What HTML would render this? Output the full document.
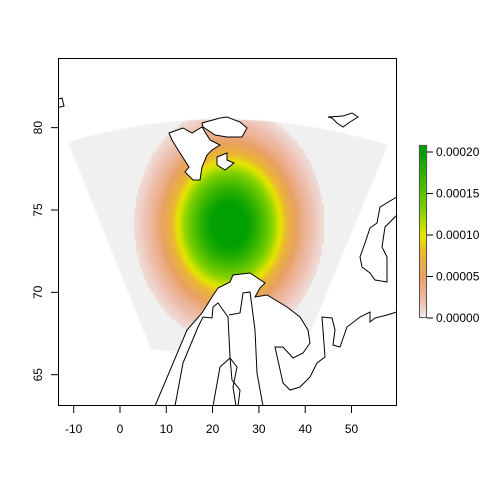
<!DOCTYPE html>
<html><head><meta charset="utf-8"><style>
html,body{margin:0;padding:0;background:#fff;}
#wrap{position:relative;width:480px;height:480px;font-family:"Liberation Sans",sans-serif;}
svg{position:absolute;left:0;top:0}
</style></head><body>
<div id="wrap">
<canvas id="heat" width="480" height="480" style="position:absolute;left:0;top:0"></canvas>
<svg id="s" width="480" height="480"></svg>
</div>
<script>
// density model parameters (lon, lat, spread lon, spread lat, peak)
const centerLonLat = [23.6, 74.1];
const spreadLonLat = [9.4, 3.25];
const peakDensity = [0.00021];
const xTicks = [-10,0,10,20,30,40,50];
const yTicks = [65,70,75,80];
const legendTicks = [0,0.00005,0.0001,0.00015,0.0002];
const legendLabels = ["0.00000","0.00005","0.00010","0.00015","0.00020"];

const px = lon => 120 + lon*4.63;
const py = lat => 210 - (lat-75)*16.47;
const lonOf = x => (x-120)/4.63;
const latOf = y => 75 + (210-y)/16.47;
const legY = v => 318 - v/0.00005*41.5;

const stops = [[0,[240,240,240]],[0.1,[238,190,175]],[0.25,[232,160,100]],[0.4,[234,182,50]],[0.5,[230,230,0]],[0.65,[130,210,0]],[1,[0,160,0]]];
function col(t){t=Math.max(0,Math.min(1,t));for(let i=1;i<stops.length;i++){if(t<=stops[i][0]){const a=stops[i-1],b=stops[i],f=(t-a[0])/(b[0]-a[0]);return a[1].map((c,k)=>Math.round(c+(b[1][k]-c)*f));}}return stops[stops.length-1][1];}

const cv=document.getElementById('heat'),ctx=cv.getContext('2d');
ctx.save();
ctx.beginPath();
ctx.rect(58,58,339,348);ctx.clip();
ctx.beginPath();
ctx.moveTo(68,142);ctx.quadraticCurveTo(225,95,388,145);
ctx.lineTo(305,345);ctx.quadraticCurveTo(228,360,151,349);ctx.closePath();ctx.clip();
for(let y=90;y<360;y+=2){for(let x=60;x<397;x+=2){
 const dx=(lonOf(x+1)-centerLonLat[0])/spreadLonLat[0], dy=(latOf(y+1)-centerLonLat[1])/spreadLonLat[1];
 const r=Math.sqrt(dx*dx+dy*dy);
 let v=peakDensity[0]*Math.exp(-Math.pow(r,2.4)/2);
 if(v<0.000008)v=0;
 const c=col(v/0.0002);ctx.fillStyle=`rgb(${c[0]},${c[1]},${c[2]})`;ctx.fillRect(x,y,2,2);
}}
ctx.restore();
// legend bar
for(let y=145;y<318;y++){const c=col((318-y)/(318-legY(0.0002)));ctx.fillStyle=`rgb(${c[0]},${c[1]},${c[2]})`;ctx.fillRect(419,y,8,1);}

const NS='http://www.w3.org/2000/svg',s=document.getElementById('s');
function el(t,a,p){const e=document.createElementNS(NS,t);for(const k in a)e.setAttribute(k,a[k]);(p||s).appendChild(e);return e;}
const clip=el('clipPath',{id:'pc'});el('rect',{x:58,y:58,width:339,height:348},clip);
const g=el('g',{'clip-path':'url(#pc)'});


const lands=[
 ["svalbard","169,133 183,128 192,133 202,127 210,140 220,145 212,150 207,155 202,167 200,180 193,180 185,172 189,167 180,153 172,140"],
 ["nordaustlandet","202,123 220,118 227,117 240,122 247,128 242,137 227,137 215,135 203,127"],
 ["kong-karls-land","217,157 227,153 227,160 234,163 225,170 217,165"],
 ["franz-josef-land","328,117 343,116 352,113 358,117 350,122 343,127 337,123 332,118"],
 ["greenland-tip","56,100 62,98 64,106 56,108"],
 ["novaya-zemlya","400,195 380,207 377,223 370,228 365,243 360,257 362,267 370,273 375,280 387,282 387,257 382,247 385,227 400,212"],
 ["scandinavia","155,406 187,330 202,313 212,297 218,288 230,282 233,275 250,273 265,283 260,288 255,297 267,295 287,307 300,317 308,330 310,343 303,353 293,358 283,347 275,347 283,383 290,390 300,387 310,377 317,363 325,357 322,317 332,318 335,330 333,345 340,347 347,327 360,317 370,312 370,322 375,318 387,315 400,311 400,410 150,410"]
];
for(const [n,p] of lands){const e=el('polygon',{points:p,fill:'#fff',stroke:'#000','stroke-width':1},g);}
const borders=["175,406 183,363 198,327 203,317 212,318 213,307 218,303 228,317 230,357 232,380 240,390 238,406","263,406 257,373 255,330 252,307 250,292 243,293 240,313 229,315","213,406 220,367 230,358 237,367 233,387 236,406"];
for(const p of borders){const e=el('polyline',{points:p,fill:'none',stroke:'#000','stroke-width':1},g);}

const box=el('rect',{x:58.5,y:58.5,width:338,height:347,fill:'none',stroke:'#000'});

for(const t of xTicks){const x=px(t);el('line',{x1:x,y1:406,x2:x,y2:413,stroke:'#000'});
 const tx=el('text',{x:x,y:433,'text-anchor':'middle','font-size':12});tx.textContent=t;
 }
for(const t of yTicks){const y=py(t);el('line',{x1:51,y1:y,x2:58,y2:y,stroke:'#000'});
 const tx=el('text',{x:42,y:y,'text-anchor':'middle','font-size':12,transform:`rotate(-90 42 ${y})`});tx.textContent=t;
 }
const lb=el('rect',{x:419.5,y:145.5,width:7,height:172,fill:'none',stroke:'#555'});

legendTicks.forEach((v,i)=>{const y=legY(v);el('line',{x1:427,y1:y,x2:433,y2:y,stroke:'#000'});
 const tx=el('text',{x:436,y:y+4,'font-size':12});tx.textContent=legendLabels[i];
 });
</script>
</body></html>
